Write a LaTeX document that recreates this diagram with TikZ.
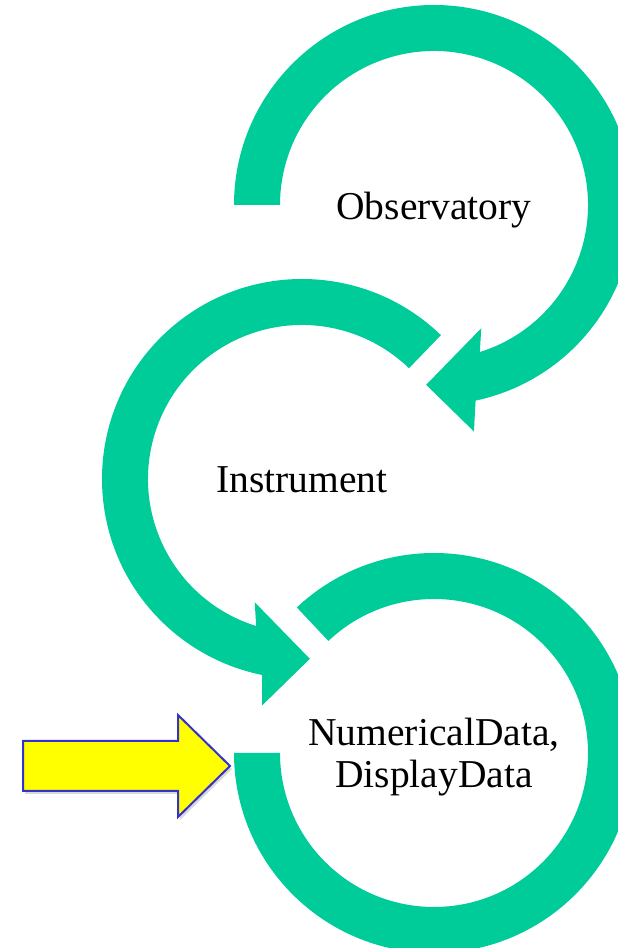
\documentclass[tikz,border=0pt]{standalone}
\usepackage{fontspec}
\setmainfont{Liberation Serif}
\usetikzlibrary{shadows}
\definecolor{ringgreen}{RGB}{0,204,153}
\definecolor{arrowblue}{RGB}{51,51,204}
\definecolor{pointeryellow}{RGB}{255,255,0}
\begin{document}
\begin{tikzpicture}[x=1pt,y=1pt,
  ring/.style={fill=ringgreen},
  lbl/.style={font=\fontsize{39.5}{42}\selectfont,align=center,inner sep=0pt}]
\useasboundingbox (0,0) rectangle (618,948);
\clip (0,0) rectangle (618,948);
\coordinate (c1) at (434,743);
\coordinate (c2) at (302,469);
\coordinate (c3) at (434,195);
% Observatory ring, head at the bottom
\fill[ring,shift={(c1)}] (180:200) arc[start angle=180,end angle=-78,radius=200]
  --(-80:230)--(-92.5:180)--(-69:132)--(-72.7:154)
  arc[start angle=-72.7,end angle=180,radius=154]--cycle;
% Instrument ring
\fill[ring,shift={(c2)}] (46:200) arc[start angle=46,end angle=258.5,radius=200]
  --(260:230)--(272.5:180)--(249:132)--(252.7:154)
  arc[start angle=252.7,end angle=46,radius=154]--cycle;
% data ring, no head
\fill[ring,shift={(c3)}] (180:200) arc[start angle=180,end angle=493.3,radius=200]
  --(133.3:154) arc[start angle=133.3,end angle=-180,radius=154]--cycle;
\node[lbl,anchor=base] (obs) at (434,728) {Observatory};
\node[lbl,anchor=base] (ins) at (302,455) {Instrument};
\node[lbl] (dat) at (434,191) {NumericalData,\\DisplayData};
% yellow pointer
\filldraw[fill=pointeryellow,draw=arrowblue,line width=2pt,line join=miter,
  drop shadow={shadow xshift=2pt,shadow yshift=-3pt,opacity=0.3}]
  (23,157)--(178,157)--(178,131)--(230,182)--(178,233)--(178,207)--(23,207)--cycle;
\end{tikzpicture}
\end{document}
